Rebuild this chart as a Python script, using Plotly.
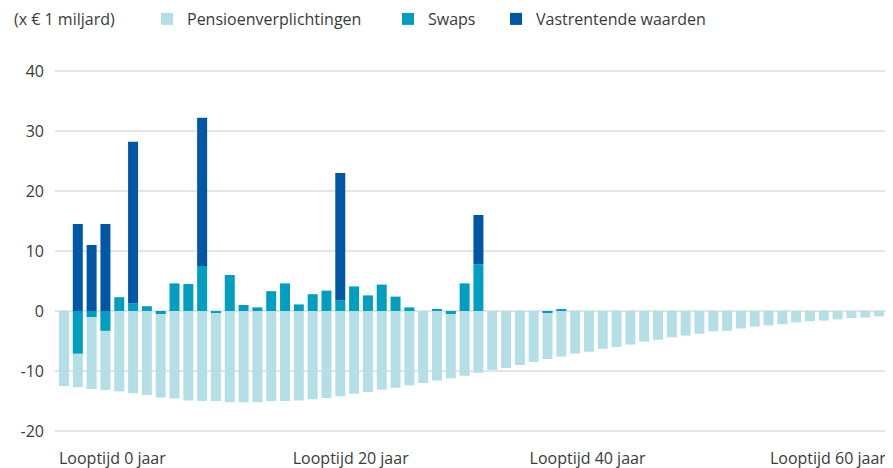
import plotly.graph_objects as go

# ---- data (x € 1 miljard) ----
pensioen = [-12.5, -12.7, -13.0, -13.2, -13.4, -13.7, -14.0, -14.4, -14.6, -14.9,
            -15.0, -15.0, -15.2, -15.2, -15.2, -15.0, -15.0, -14.9, -14.7, -14.5,
            -14.2, -13.8, -13.5, -13.1, -12.8, -12.4, -12.0, -11.6, -11.2, -10.8,
            -10.3, -9.8, -9.5, -9.0, -8.5, -8.0, -7.6, -7.1, -6.8, -6.3,
            -6.0, -5.6, -5.1, -4.8, -4.4, -4.1, -3.8, -3.4, -3.3, -2.9,
            -2.6, -2.4, -2.2, -1.9, -1.7, -1.6, -1.4, -1.2, -1.1, -0.9,
            -0.7]
swaps = [0.0, -7.1, -1.0, -3.3, 2.3, 1.3, 0.8, -0.5, 4.6, 4.5,
         7.5, -0.3, 6.0, 1.0, 0.6, 3.3, 4.6, 1.1, 2.8, 3.4,
         1.8, 4.1, 2.6, 4.4, 2.4, 0.6, 0.0, 0.3, -0.5, 4.6,
         7.8, 0.0, 0.0, 0.0, 0.0, -0.2, 0.3, 0.0, 0.0, 0.0,
         0.0, 0.0, 0.0, 0.0, 0.0, 0.0, 0.0, 0.0, 0.0, 0.0,
         0.0, 0.0, 0.0, 0.0, 0.0, 0.0, 0.0, 0.0, 0.0, 0.0,
         0.0]
vastrentende = [0.0, 14.5, 11.0, 14.5, 0.0, 26.9, 0.0, 0.0, 0.0, 0.0,
                24.7, 0.0, 0.0, 0.0, 0.0, 0.0, 0.0, 0.0, 0.0, 0.0,
                21.2, 0.0, 0.0, 0.0, 0.0, 0.0, 0.0, 0.0, 0.0, 0.0,
                8.2, 0.0, 0.0, 0.0, 0.0, 0.0, 0.0, 0.0, 0.0, 0.0,
                0.0, 0.0, 0.0, 0.0, 0.0, 0.0, 0.0, 0.0, 0.0, 0.0,
                0.0, 0.0, 0.0, 0.0, 0.0, 0.0, 0.0, 0.0, 0.0, 0.0,
                0.0]
positions = list(range(len(pensioen)))
tick_labels = ["Looptijd 0 jaar", "Looptijd 20 jaar", "Looptijd 40 jaar", "Looptijd 60 jaar"]
tick_positions = [-0.36, 16.56, 33.7, 51.1]
y_ticks = [-20, -10, 0, 10, 20, 30, 40]
y_tick_labels = ["-20", "-10", "0", "10", "20", "30", "40"]

# vastrentende waarden stack on top of positive swaps
vr_base = [max(s, 0.0) for s in swaps]

C_PENS = "#B5DFE7"
C_SWAP = "#009FC1"
C_VAST = "#0057A6"
TXT = "#3a3a3a"
FONT = "Open Sans"

# the page body has an 8px default margin, so the figure is sized to fit inside the window
W, H = 885, 460
ML, MT, MB = 47, 57, 31
PW, PH = W - ML, H - MT - MB

fig = go.Figure()
fig.add_trace(go.Bar(x=positions, y=pensioen, name="Pensioenverplichtingen",
                     marker=dict(color=C_PENS, line=dict(width=0)), width=0.723,
                     legend="legend"))
fig.add_trace(go.Bar(x=positions, y=swaps, name="Swaps",
                     marker=dict(color=C_SWAP, line=dict(width=0)), width=0.723,
                     legend="legend2"))
fig.add_trace(go.Bar(x=positions, y=vastrentende, base=vr_base, name="Vastrentende waarden",
                     marker=dict(color=C_VAST, line=dict(width=0)), width=0.723,
                     legend="legend3"))

leg_common = dict(orientation="h", xref="container", yref="container",
                  xanchor="left", yanchor="middle", y=1 - 11 / H,
                  font=dict(family=FONT, size=16, color=TXT),
                  bgcolor="rgba(0,0,0,0)", borderwidth=0)

fig.update_layout(
    width=W, height=H,
    margin=dict(l=ML, r=0, t=MT, b=MB, autoexpand=False),
    barmode="overlay",
    plot_bgcolor="white", paper_bgcolor="white",
    font=dict(family=FONT, size=16, color=TXT),
    showlegend=True,
    legend=dict(x=139 / W, **leg_common),
    legend2=dict(x=380 / W, **leg_common),
    legend3=dict(x=488 / W, **leg_common),
    xaxis=dict(range=[-0.651, 60.01], tickmode="array", tickvals=tick_positions,
               ticktext=tick_labels, ticklabelposition="outside right",
               showgrid=False, zeroline=False, showline=False, ticks="",
               automargin=False,
               ticklabelstandoff=10, tickfont=dict(size=16, color=TXT)),
    yaxis=dict(range=[-21, 41], tickmode="array", tickvals=y_ticks,
               ticktext=y_tick_labels,
               showgrid=True, gridcolor="#E2E5E9", gridwidth=2,
               zeroline=False, showline=False, ticks="", automargin=False,
               ticklabelstandoff=10, tickfont=dict(size=16, color=TXT)),
    annotations=[dict(text="(x € 1 miljard)", xref="paper", yref="paper",
                      x=(4 - ML) / PW, y=1 + (MT - 11) / PH,
                      xanchor="left", yanchor="middle", showarrow=False,
                      font=dict(family=FONT, size=16, color=TXT))],
)

fig.write_html("out.html")
